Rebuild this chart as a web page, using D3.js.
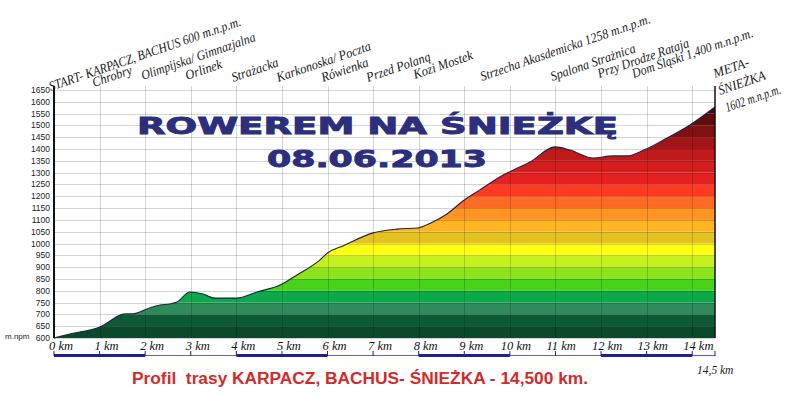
<!DOCTYPE html>
<html lang="pl">
<head>
  <meta charset="UTF-8">
  <title>Rowerem na Śnieżkę</title>
  <script src="https://d3js.org/d3.v7.min.js"></script>
  <style>
    body { margin: 0; background: #fff; }
    svg { display: block; }
  </style>
</head>
<body>
<svg id="chart" width="800" height="395"></svg>
<script>
// route profile (km, m n.p.m.)
const profileKm = [0, 0.35, 1.01, 1.56, 1.73, 2.04, 2.33, 2.54, 2.70, 2.98, 3.27, 3.53, 4.01, 4.45, 4.96, 5.33, 5.83, 6.0, 6.34, 7.0, 7.52, 7.98, 8.31, 8.62, 8.97, 9.34, 9.78, 10.44, 10.99, 11.32, 11.82, 12.26, 12.57, 12.94, 13.45, 13.95, 14.5];
const profileElev = [600, 617, 647, 702, 702, 723, 740, 744, 752, 795, 786, 769, 769, 795, 824, 867, 930, 960, 990, 1045, 1061, 1066, 1091, 1125, 1180, 1227, 1282, 1345, 1409, 1396, 1362, 1371, 1371, 1396, 1447, 1502, 1578];

// elevation bands, 50 m each from 600
const bandColors = ["#0a4a2a", "#0d5b36", "#2f8b5a", "#0ca84a", "#48d21a", "#8ee41c", "#c8f020", "#ffff14",
  "#e4c222", "#ffb424", "#ff9424", "#ff6a24", "#ff3a22", "#e42020", "#d41e1e", "#c01a1a",
  "#a01616", "#801010", "#600c0c", "#440808", "#300404"];

const kmTicks = d3.range(0, 15);
const elevTicks = d3.range(600, 1651, 50);

const placeNames = ["START- KARPACZ, BACHUS 600 m.n.p.m.", "Chrobry", "Olimpijska/ Gimnazjalna", "Orlinek",
  "Strażacka", "Karkonoska/ Poczta", "Rówienka", "Przed Polaną", "Kozi Mostek",
  "Strzecha Akasdemicka 1258 m.n.p.m.", "Spalona Strażnica", "Przy Drodze Rataja", "Dom Śląski 1,400 m.n.p.m."];
const placeKm = [-0.07, 0.88, 1.95, 2.92, 3.93, 4.92, 5.9, 6.89, 7.92, 9.39, 10.93, 11.96, 12.72];
const finishLines = ["META-", "ŚNIEŻKA", "1602 m.n.p.m."];

const title1 = "ROWEREM NA ŚNIEŻKĘ";
const title2 = "08.06.2013";
const footer = "Profil  trasy KARPACZ, BACHUS- ŚNIEŻKA - 14,500 km.";

// label layout (baseline y and run length of each rotated label)
const placeY = [91, 87, 80, 80, 82, 82, 82, 82, 79, 81, 81, 78, 78];
const placeLen = [202, 41, 120, 38, 49, 99, 49, 67, 62, 179, 89, 96, 127];
const finishY = [78, 95, 112];
const finishDx = [0, 5, 12];
const finishLen = [37, 49, 58];

const svg = d3.select("#chart");
const x = d3.scaleLinear().domain([0, 14.5]).range([54, 715]);
const y = d3.scaleLinear().domain([600, 1650]).range([338, 90]);
const plotTop = 86;

const profile = profileKm.map((k, i) => ({ km: k, e: profileElev[i] }));

const area = d3.area()
  .x(d => x(d.km))
  .y0(y(600))
  .y1(d => y(d.e))
  .curve(d3.curveMonotoneX);

svg.append("clipPath").attr("id", "clip")
  .append("path").datum(profile).attr("d", area);

// coloured bands clipped to the profile
svg.append("g").attr("clip-path", "url(#clip)")
  .selectAll("rect")
  .data(bandColors)
  .join("rect")
  .attr("x", x(0))
  .attr("width", x(14.5) - x(0))
  .attr("y", (d, i) => y(600 + (i + 1) * 50))
  .attr("height", (d, i) => y(600 + i * 50) - y(600 + (i + 1) * 50))
  .attr("fill", d => d);

// grid
const grid = svg.append("g").attr("stroke", "rgba(0,0,0,0.17)").attr("stroke-width", 1);
grid.selectAll(".h").data(elevTicks).join("line")
  .attr("x1", x(0)).attr("x2", x(14.5))
  .attr("y1", d => Math.round(y(d)) + 0.5).attr("y2", d => Math.round(y(d)) + 0.5);
grid.selectAll(".v").data(kmTicks.slice(1)).join("line")
  .attr("x1", d => Math.round(x(d)) + 0.5).attr("x2", d => Math.round(x(d)) + 0.5)
  .attr("y1", plotTop).attr("y2", y(600));

// profile outline
svg.append("path").datum(profile)
  .attr("fill", "none")
  .attr("stroke", "#1c2440")
  .attr("stroke-width", 1.1)
  .attr("d", d3.line().x(d => x(d.km)).y(d => y(d.e)).curve(d3.curveMonotoneX));

// frame lines
svg.append("line").attr("x1", x(0)).attr("x2", x(0)).attr("y1", plotTop).attr("y2", y(600))
  .attr("stroke", "#111").attr("stroke-width", 2);
svg.append("line").attr("x1", x(14.5)).attr("x2", x(14.5)).attr("y1", plotTop).attr("y2", y(600))
  .attr("stroke", "#111").attr("stroke-width", 1.5);

// y labels
svg.append("g").selectAll("text").data(elevTicks).join("text")
  .attr("x", 50).attr("y", d => y(d) + 3)
  .attr("text-anchor", "end")
  .attr("font-family", "Liberation Sans, Arial, sans-serif")
  .attr("font-size", 8.5)
  .attr("fill", "#222")
  .text(d => d);
svg.append("text").attr("x", 5).attr("y", y(600) + 1)
  .attr("font-family", "Liberation Sans, Arial, sans-serif")
  .attr("font-size", 8).attr("fill", "#222").text("m.npm");

// x labels
svg.append("g").selectAll("text").data(kmTicks).join("text")
  .attr("x", d => x(d) - (d >= 10 ? 9 : 5))
  .attr("y", 350)
  .attr("font-family", "Liberation Serif, Times New Roman, serif")
  .attr("font-style", "italic")
  .attr("font-size", 12.5)
  .attr("fill", "#111")
  .text(d => d + " km");
svg.append("text").attr("x", 697).attr("y", 374)
  .attr("font-family", "Liberation Serif, Times New Roman, serif")
  .attr("font-style", "italic").attr("font-size", 11.5).attr("fill", "#222")
  .text("14,5 km");

// scale bar
const segs = d3.range(0, 14.5, 2).map(s => [s, Math.min(s + 2, 14.5)]);
const bar = svg.append("g");
bar.selectAll(".seg").data(segs).join("line")
  .attr("x1", d => x(d[0])).attr("x2", d => x(d[1]))
  .attr("y1", 355.5).attr("y2", 355.5)
  .attr("stroke", (d, i) => i % 2 ? "#6a6ab8" : "#1e1e96")
  .attr("stroke-width", (d, i) => i % 2 ? 1.2 : 3);
bar.selectAll(".tk").data(kmTicks.concat([14.5])).join("line")
  .attr("x1", d => x(d)).attr("x2", d => x(d))
  .attr("y1", 351).attr("y2", 356)
  .attr("stroke", "#1e1e96").attr("stroke-width", 1);

// place labels along the top
const labelFont = "Liberation Serif, Times New Roman, serif";
const angle = -19;
svg.append("g").selectAll("text").data(placeNames).join("text")
  .attr("transform", (d, i) => `translate(${x(placeKm[i])},${placeY[i]}) rotate(${angle})`)
  .attr("textLength", (d, i) => placeLen[i])
  .attr("lengthAdjust", "spacingAndGlyphs")
  .attr("font-family", labelFont)
  .attr("font-style", "italic")
  .attr("font-size", 13.5)
  .attr("fill", "#1a1a1a")
  .text(d => d);
svg.append("g").selectAll("text").data(finishLines).join("text")
  .attr("transform", (d, i) => `translate(${x(14.5) + finishDx[i]},${finishY[i]}) rotate(${angle})`)
  .attr("textLength", (d, i) => finishLen[i])
  .attr("lengthAdjust", "spacingAndGlyphs")
  .attr("font-family", labelFont)
  .attr("font-style", "italic")
  .attr("font-size", 13.5)
  .attr("fill", "#1a1a1a")
  .text(d => d);

// titles
const titleStyle = sel => sel
  .attr("lengthAdjust", "spacingAndGlyphs")
  .attr("font-family", "DejaVu Sans, sans-serif").attr("font-weight", "bold")
  .attr("font-size", 23).attr("fill", "#2c2e7e")
  .attr("stroke", "#2c2e7e").attr("stroke-width", 0.9);
svg.append("text").attr("x", 137).attr("y", 134)
  .attr("textLength", 481).call(titleStyle).text(title1);
svg.append("text").attr("x", 267).attr("y", 167)
  .attr("textLength", 220).call(titleStyle).text(title2);

svg.append("text").attr("x", 132).attr("y", 384)
  .attr("textLength", 456).attr("lengthAdjust", "spacingAndGlyphs")
  .style("white-space", "pre")
  .attr("font-family", "Liberation Sans, Arial, sans-serif").attr("font-weight", "bold")
  .attr("font-size", 16).attr("fill", "#d42a2a")
  .text(footer);
</script>
</body>
</html>
